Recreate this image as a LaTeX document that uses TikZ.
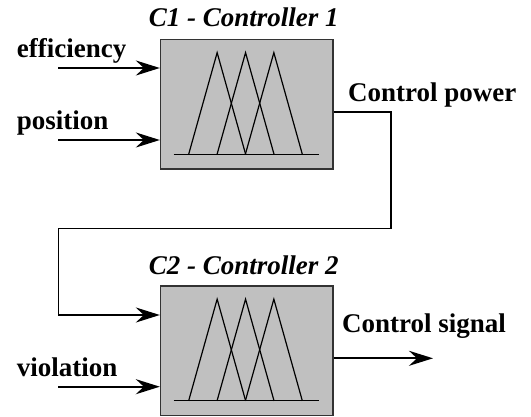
\documentclass[tikz,border=0pt]{standalone}
\usepackage{fontspec}
\setmainfont{Liberation Serif}
\usetikzlibrary{arrows.meta,calc}
\definecolor{boxgray}{RGB}{192,192,192}
\tikzset{
  fuzzysets/.pic={
    \draw[mf] (13.8,115.5) -- (158.8,115.5);
    \foreach \a in {28.8,57.2,85.5}
      \draw[mf] (\a,115.5) -- (\a+28.5,13.8) -- (\a+57,115.5);
  }
}
\begin{document}
\begin{tikzpicture}[x=1pt,y=-1pt,
  ctrl/.style={draw=black!80, line width=1.3pt, fill=boxgray,
    minimum width=172.5pt, minimum height=129.5pt, inner sep=0pt},
  sig/.style={line width=2pt, -{Stealth[length=24pt,width=15pt,inset=8pt]}},
  wire/.style={line width=1.3pt},
  mf/.style={line width=1.2pt},
  lbl/.style={anchor=base west, inner sep=0pt,
    font=\fontsize{27}{30}\selectfont\bfseries},
  ttl/.style={anchor=base, inner sep=0pt,
    font=\fontsize{27}{30}\selectfont\bfseries\itshape}]
  \useasboundingbox (0,0) rectangle (531,417);

  % controllers
  \node[ctrl] (c1) at (246.75,104.25) {};
  \node[ctrl] (c2) at (246.75,350.75) {};
  \pic at (c1.north west) {fuzzysets};
  \pic at (c2.north west) {fuzzysets};
  \node[ttl] (t1) at ($(c1.north)+(-3,-12.5)$) {C1 - Controller 1};
  \node[ttl] (t2) at ($(c2.north)+(-3,-10.5)$) {C2 - Controller 2};

  % inputs of C1
  \node[lbl] (eff) at (16.7,58) {efficiency};
  \node[lbl] (pos) at (16.7,130) {position};
  \coordinate (e0) at (58.3,68);
  \coordinate (p0) at (58.3,140);
  \draw[sig] (e0) -- (e0 -| c1.west);
  \draw[sig] (p0) -- (p0 -| c1.west);

  % control power from C1 into C2
  \node[lbl] (cp) at (348,102) {Control power};
  \coordinate (o1) at ($(c1.east)+(0,7.75)$);
  \coordinate (k) at (58.3,315);
  \draw[wire] (o1) -- (391,112) -- (391,228.3) -- (58.3,228.3) -- (k);
  \draw[sig] (k) -- (k -| c2.west);

  % violation input of C2
  \node[lbl] (vio) at (16.7,377) {violation};
  \coordinate (v0) at (58.3,386.7);
  \draw[sig] (v0) -- (v0 -| c2.west);

  % output signal
  \node[lbl] (cs) at (342,333) {Control signal};
  \coordinate (o2) at ($(c2.east)+(0,7.55)$);
  \coordinate (s1) at (433,358.3);
  \draw[sig] (o2) -- (s1);
\end{tikzpicture}
\end{document}
